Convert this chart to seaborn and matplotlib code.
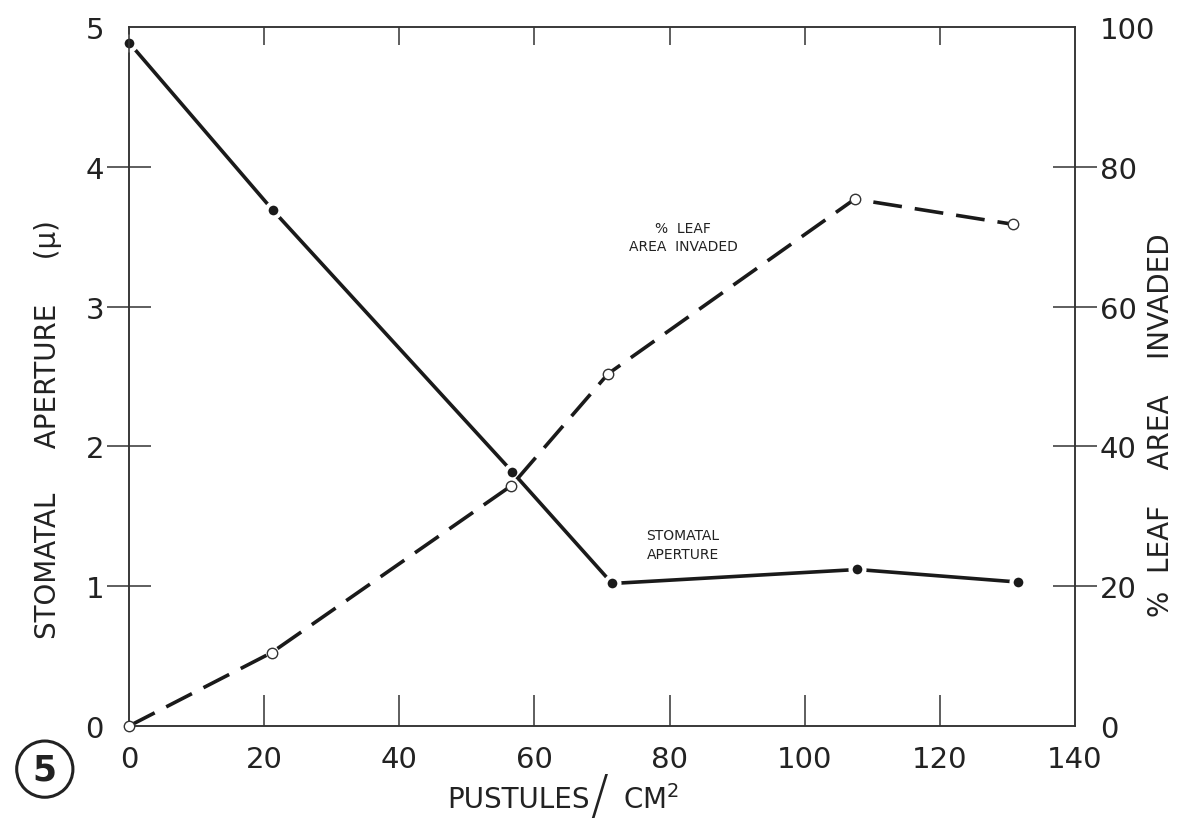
import matplotlib
matplotlib.use("Agg")
import matplotlib.pyplot as plt
import seaborn as sns
import pandas as pd

# Data
pustules_stomata = [0, 21.3, 56.7, 71.5, 107.8, 131.6]
stomatal_aperture = [4.89, 3.69, 1.82, 1.02, 1.12, 1.03]

pustules_leaf = [0, 21.1, 56.6, 70.9, 107.4, 130.8]
leaf_area_invaded = [0, 10.5, 34.4, 50.4, 75.4, 71.8]

x_ticks = [0, 20, 40, 60, 80, 100, 120, 140]
left_ticks = [0, 1, 2, 3, 4, 5]
right_ticks = [0, 20, 40, 60, 80, 100]

sns.set_theme(style="white")
plt.rcParams['font.family'] = ['DejaVu Sans']

stom = pd.DataFrame({"x": pustules_stomata, "y": stomatal_aperture})
leaf = pd.DataFrame({"x": pustules_leaf, "y": leaf_area_invaded})

fig = plt.figure(figsize=(11.79, 8.29), dpi=100)
ax = fig.add_axes([0.1094, 0.123, 0.8024, 0.843])
ax2 = ax.twinx()

# stomatal aperture: solid line, filled dots
sns.lineplot(data=stom, x="x", y="y", ax=ax, color="#1a1a1a", linewidth=2.6,
             marker="o", markersize=10, markerfacecolor="#1a1a1a",
             markeredgecolor="white", markeredgewidth=3, zorder=3,
             clip_on=False)

# leaf area: long dashes, open circles
sns.lineplot(data=leaf, x="x", y="y", ax=ax2, color="#1a1a1a", linewidth=2.6,
             linestyle=(0, (8, 3.6)), marker="o", markersize=7.5,
             markerfacecolor="white", markeredgecolor="#333333",
             markeredgewidth=1.0, zorder=3, clip_on=False)

ax.set_xlim(0, 140)
ax.set_ylim(0, 5)
ax2.set_ylim(0, 100)

for a in (ax, ax2):
    for s in a.spines.values():
        s.set_color("#333333")
        s.set_linewidth(1.1)
    a.xaxis.remove_overlapping_locs = False
    a.yaxis.remove_overlapping_locs = False

ink = "#222222"

# bottom axis
ax.set_xticks(x_ticks)
ax.set_xticks(x_ticks[1:-1], minor=True)
ax.tick_params(axis="x", which="major", length=0, labelsize=21,
               labelcolor=ink, pad=14)
ax.tick_params(axis="x", which="minor", direction="in", length=22,
               width=1.1, color="#333333", bottom=True)

# top ticks
top = ax.secondary_xaxis("top")
top.set_xticks(x_ticks[1:-1])
top.tick_params(direction="in", length=13, width=1.1, color="#333333",
                labeltop=False)
top.spines["top"].set_visible(False)

# left axis
ax.set_yticks(left_ticks)
ax.set_yticks(left_ticks[1:-1], minor=True)
ax.tick_params(axis="y", which="major", length=0, labelsize=21,
               labelcolor=ink, pad=18)
ax.tick_params(axis="y", which="minor", direction="inout", length=32,
               width=1.1, color="#333333", left=True)

# right axis
ax2.set_yticks(right_ticks)
ax2.set_yticks(right_ticks[1:-1], minor=True)
ax2.tick_params(axis="y", which="major", length=0, labelsize=21,
                labelcolor=ink, pad=18)
ax2.tick_params(axis="y", which="minor", direction="inout", length=32,
                width=1.1, color="#333333", right=True)

ax.set_xlabel("")
ax.set_ylabel("STOMATAL     APERTURE     (μ)", fontsize=20, color=ink)
ax.yaxis.set_label_coords(-0.071, 0.425)
ax2.set_ylabel("%  LEAF    AREA    INVADED", fontsize=20, color=ink)
ax2.yaxis.set_label_coords(1.076, 0.432)

# x label in pieces
fig.text(0.44, 0.035, "PUSTULES", fontsize=20, color=ink, ha="center", va="center")
fig.text(0.508, 0.037, "/", fontsize=38, color=ink, ha="center", va="center",
         fontweight="light")
fig.text(0.552, 0.035, "CM$^2$", fontsize=20, color=ink, ha="center", va="center")

# inline labels
ax.text(82, 3.5, "%  LEAF\nAREA  INVADED", fontsize=10, color=ink,
        ha="center", va="center", linespacing=1.4)
ax.text(82, 1.3, "STOMATAL\nAPERTURE", fontsize=10, color=ink,
        ha="center", va="center", linespacing=1.4)

# figure number
fig.text(0.038, 0.071, "5", fontsize=25, fontweight="bold", color=ink,
         ha="center", va="center",
         bbox=dict(boxstyle="circle,pad=0.32", facecolor="white",
                   edgecolor=ink, linewidth=2.2))

fig.savefig("out.png", dpi=100)
